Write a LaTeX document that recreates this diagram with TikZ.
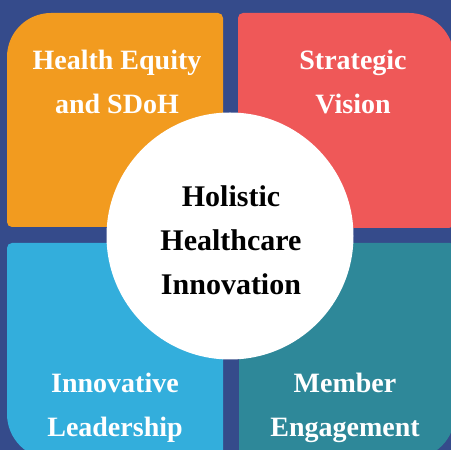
\documentclass[tikz,border=0pt]{standalone}
\usepackage{fontspec}
\setmainfont{Liberation Serif}
\definecolor{navy}{HTML}{354B8B}
\definecolor{qorange}{HTML}{F29B1F}
\definecolor{qred}{HTML}{EF5858}
\definecolor{qblue}{HTML}{33AEDC}
\definecolor{qteal}{HTML}{2E8899}
\tikzset{
  qlabel/.style={text=white, font=\bfseries\fontsize{28}{44}\selectfont, align=center, inner sep=0pt},
  clabel/.style={text=black, font=\bfseries\fontsize{30}{44}\selectfont, align=center, inner sep=0pt}
}
\begin{document}
\begin{tikzpicture}[x=1pt,y=1pt]
\useasboundingbox (0,0) rectangle (451,450);
\clip (0,0) rectangle (451,450);
\fill[navy] (0,0) rectangle (451,450);
% orange (top-left)
\fill[qorange] (12,223) -- (218,223) arc[start angle=270,end angle=360,radius=5]
  -- (223,432) arc[start angle=0,end angle=90,radius=5]
  -- (51,437) arc[start angle=90,end angle=180,radius=44]
  -- (7,228) arc[start angle=180,end angle=270,radius=5] -- cycle;
% red (top-right)
\fill[qred] (243,222) -- (449,222) arc[start angle=270,end angle=360,radius=5]
  -- (454,392) arc[start angle=0,end angle=90,radius=45]
  -- (243,437) arc[start angle=90,end angle=180,radius=5]
  -- (238,227) arc[start angle=180,end angle=270,radius=5] -- cycle;
% blue (bottom-left)
\fill[qblue] (52,-9) -- (218,-9) arc[start angle=270,end angle=360,radius=5]
  -- (223,202) arc[start angle=0,end angle=90,radius=5]
  -- (12,207) arc[start angle=90,end angle=180,radius=5]
  -- (7,36) arc[start angle=180,end angle=270,radius=45] -- cycle;
% teal (bottom-right)
\fill[qteal] (244,-9) -- (410,-9) arc[start angle=270,end angle=360,radius=45]
  -- (455,202) arc[start angle=0,end angle=90,radius=5]
  -- (244,207) arc[start angle=90,end angle=180,radius=5]
  -- (239,-4) arc[start angle=180,end angle=270,radius=5] -- cycle;
% circle
\node[circle, fill=white, minimum size=247pt, inner sep=0pt] (hub) at (230,214) {};
\node[clabel] (center) at (231,210) {Holistic\\Healthcare\\Innovation};
\node[qlabel] (tl) at (117,368) {Health Equity\\and SDoH};
\node[qlabel] (tr) at (353,368) {Strategic\\Vision};
\node[qlabel] (bl) at (115,42) {Innovative\\Leadership};
\node[qlabel] (br) at (345,42) {Member\\Engagement};
\end{tikzpicture}
\end{document}
